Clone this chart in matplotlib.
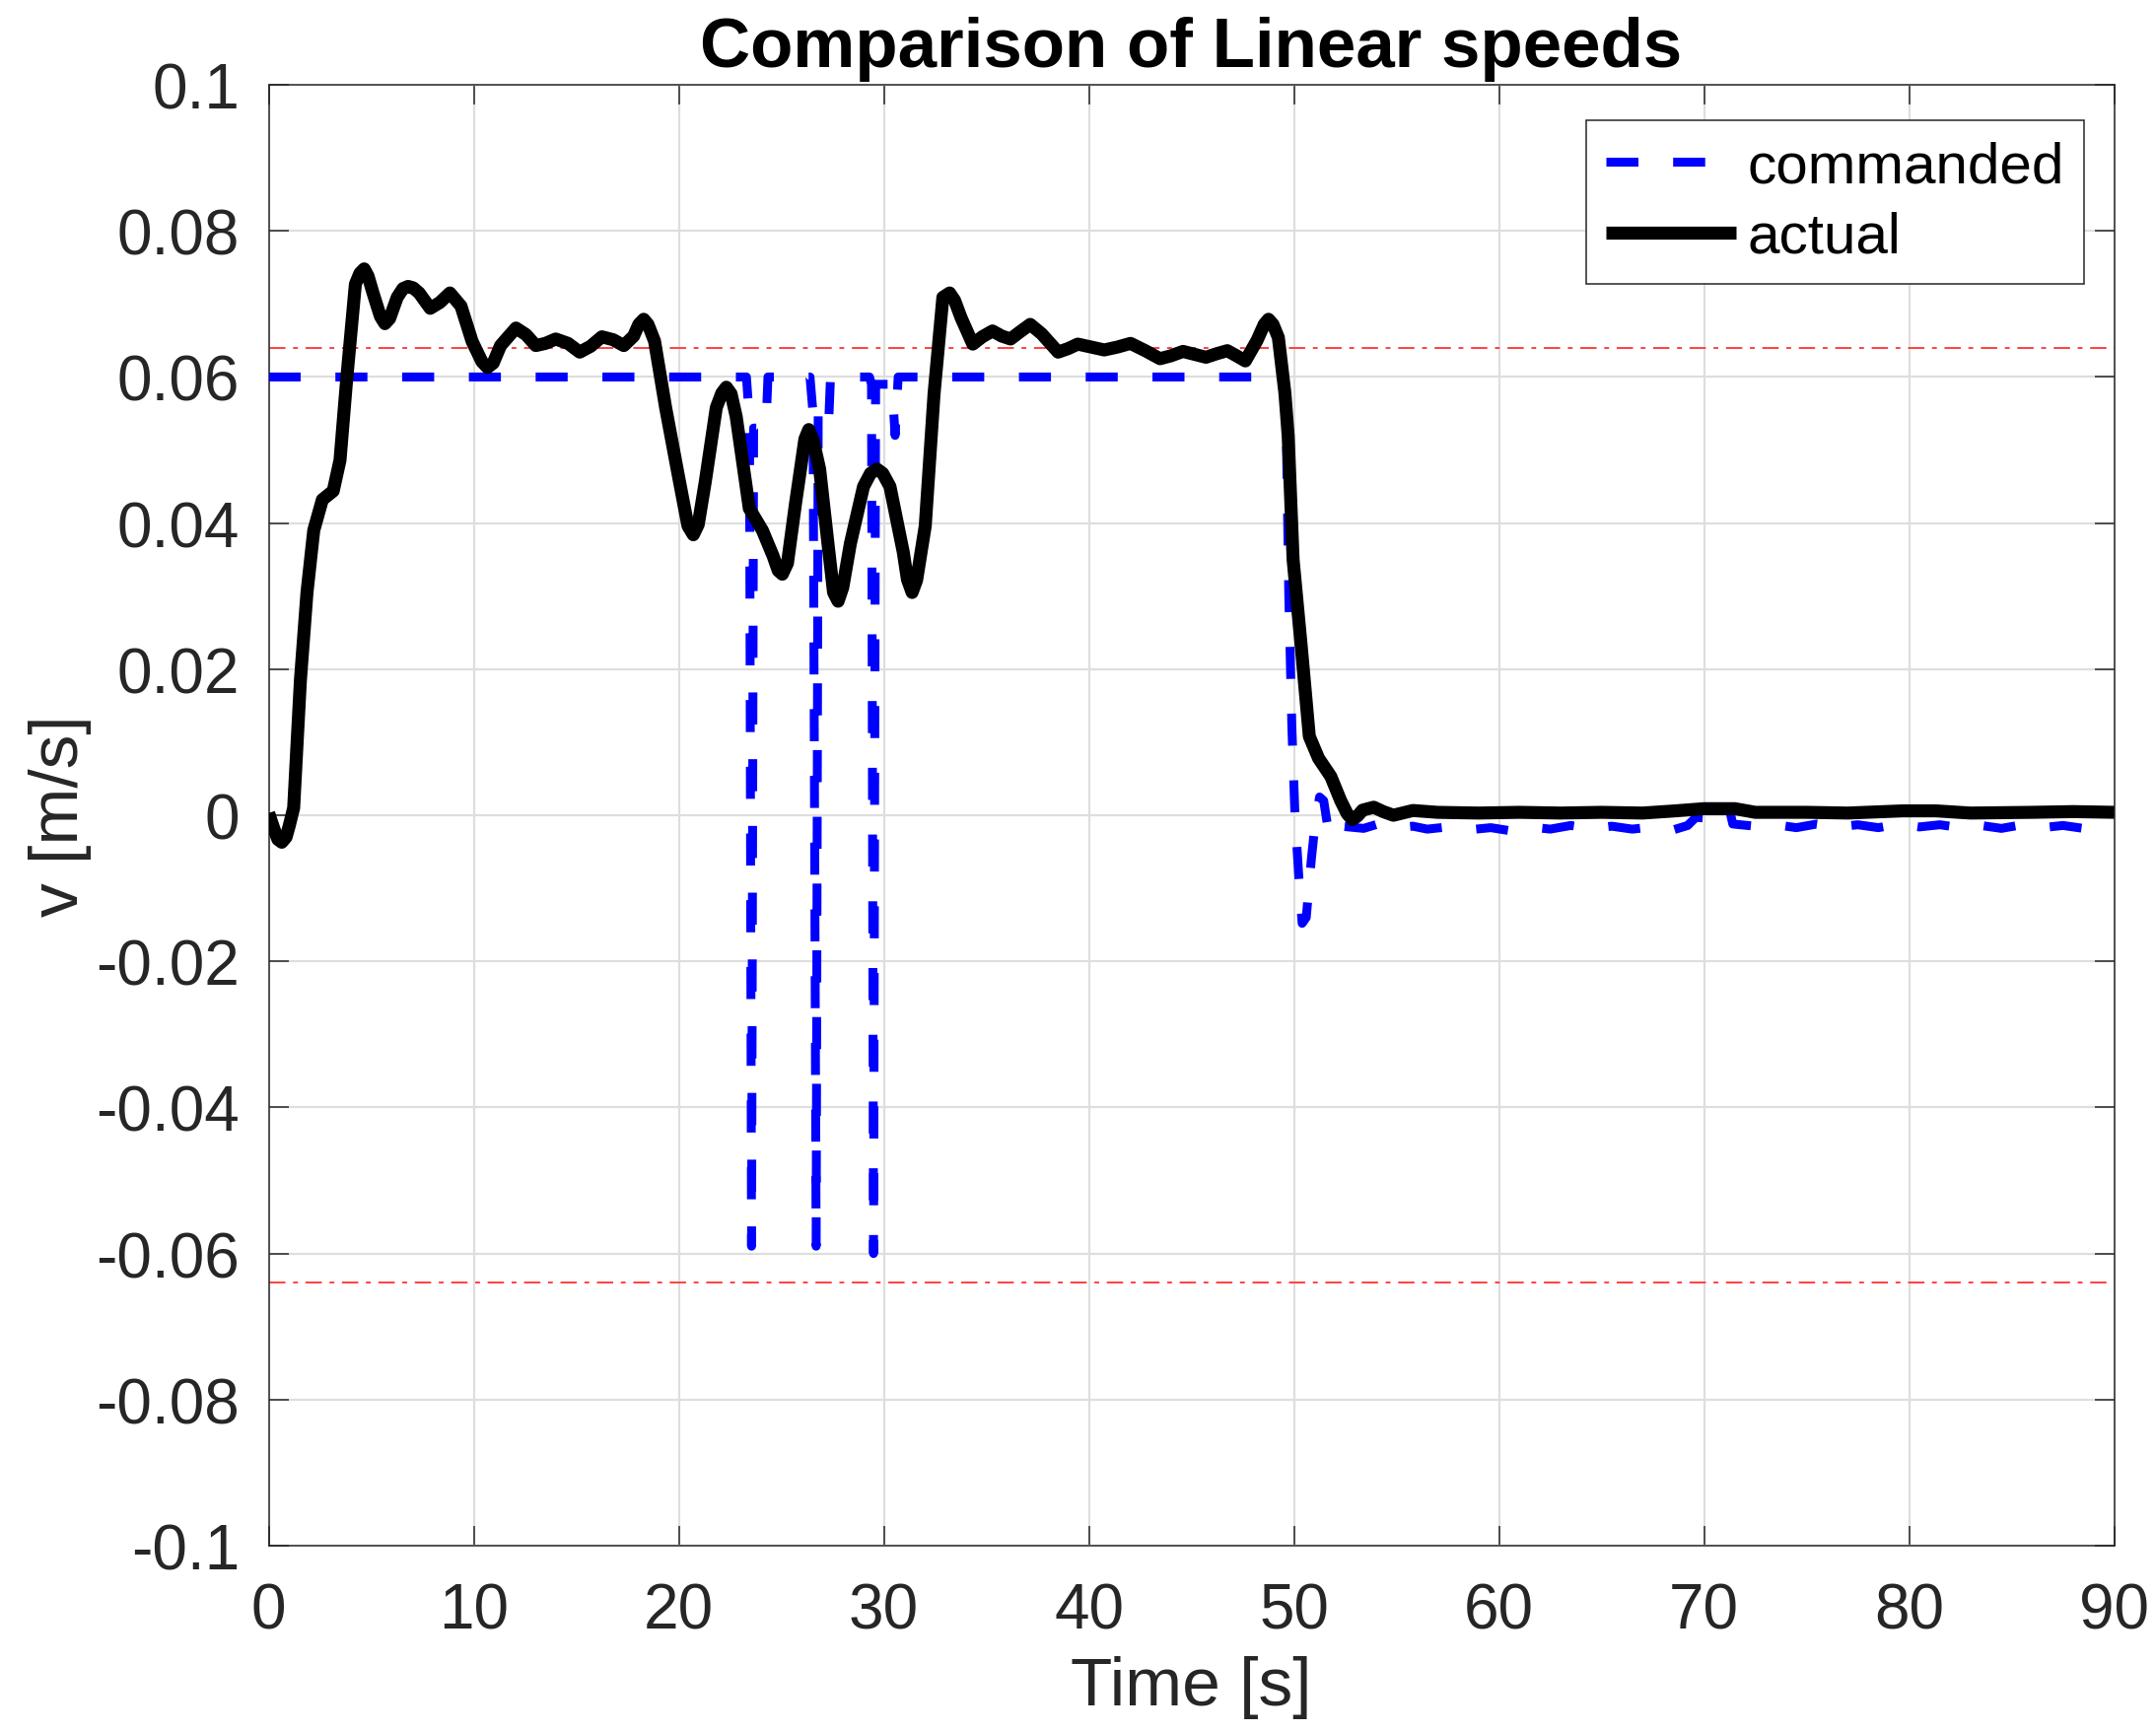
import matplotlib
matplotlib.use("Agg")
import matplotlib.pyplot as plt

# =========================
# DATA
# =========================
# actual linear speed of the robot [m/s]
T_ACTUAL = [0.0, 0.25, 0.45, 0.64, 0.85, 1.0, 1.22, 1.55, 1.87, 2.2, 2.62,
            3.15, 3.48, 3.8, 4.23, 4.45, 4.66, 4.85, 5.09, 5.45, 5.67, 5.9,
            6.27, 6.55, 6.8, 7.05, 7.34, 7.88, 8.35, 8.84, 9.38, 9.92, 10.4,
            10.67, 10.95, 11.31, 12.06, 12.55, 13.03, 13.5, 14.0, 14.6, 15.17,
            15.7, 16.25, 16.8, 17.32, 17.8, 18.05, 18.29, 18.5, 18.82, 19.36,
            20.0, 20.45, 20.71, 20.95, 21.29, 21.83, 22.1, 22.32, 22.55, 22.8,
            23.44, 24.08, 24.6, 24.85, 25.05, 25.3, 25.69, 26.15, 26.34, 26.55,
            26.87, 27.3, 27.55, 27.77, 28.0, 28.37, 29.01, 29.35, 29.66, 29.95,
            30.3, 30.95, 31.15, 31.38, 31.6, 32.02, 32.45, 32.88, 33.05, 33.21,
            33.45, 33.77, 34.34, 34.8, 35.3, 35.75, 36.18, 36.65, 37.14, 37.7,
            38.5, 39.0, 39.46, 40.1, 40.75, 41.4, 42.03, 42.75, 43.47, 44.0,
            44.59, 45.15, 45.71, 46.25, 46.75, 47.2, 47.63, 48.2, 48.55, 48.76,
            48.98, 49.24, 49.56, 49.72, 49.96, 50.36, 50.75, 51.2, 51.8, 52.28,
            52.6, 52.85, 53.1, 53.35, 53.89, 54.35, 54.85, 55.8, 57.0, 59.0,
            61.0, 63.0, 65.0, 67.0, 68.6, 70.0, 71.5, 72.5, 75.0, 77.0, 79.7,
            81.3, 83.0, 86.0, 88.0, 90.0]
V_ACTUAL = [0.0003, -0.0018, -0.0033, -0.0037, -0.003, -0.0015, 0.001, 0.0185,
            0.0305, 0.039, 0.0432, 0.0444, 0.0486, 0.0595, 0.0727, 0.0742,
            0.0748, 0.0738, 0.0715, 0.0683, 0.0673, 0.068, 0.0709, 0.0721,
            0.0724, 0.0722, 0.0715, 0.0694, 0.0702, 0.0715, 0.0697, 0.0649,
            0.0621, 0.0613, 0.0619, 0.0643, 0.0667, 0.0658, 0.0643, 0.0646,
            0.0652, 0.0646, 0.0634, 0.0642, 0.0655, 0.0651, 0.0643, 0.0656,
            0.0672, 0.0679, 0.0672, 0.0649, 0.0558, 0.0462, 0.0396, 0.0384,
            0.0398, 0.0456, 0.0558, 0.0578, 0.0586, 0.0577, 0.0546, 0.042,
            0.039, 0.0355, 0.0335, 0.033, 0.0345, 0.0426, 0.0515, 0.0528,
            0.0514, 0.0474, 0.0366, 0.0305, 0.0293, 0.0312, 0.0372, 0.045,
            0.0468, 0.0474, 0.0468, 0.045, 0.036, 0.0323, 0.0305, 0.0322,
            0.0396, 0.0577, 0.0709, 0.0712, 0.0715, 0.0705, 0.0681, 0.0645,
            0.0655, 0.0663, 0.0656, 0.0652, 0.0662, 0.0672, 0.0659, 0.0634,
            0.0639, 0.0645, 0.0641, 0.0637, 0.0641, 0.0646, 0.0636, 0.0625,
            0.0629, 0.0635, 0.0631, 0.0627, 0.0632, 0.0636, 0.0629, 0.0622,
            0.065, 0.0672, 0.0679, 0.0672, 0.0654, 0.0578, 0.0519, 0.035,
            0.023, 0.0108, 0.0078, 0.0053, 0.002, 0.0002, -0.0006, -0.0001,
            0.0007, 0.0011, 0.0005, 0.0, 0.00065, 0.0004, 0.0003, 0.0004,
            0.0003, 0.0004, 0.0003, 0.0006, 0.0009, 0.0009, 0.0004, 0.0004,
            0.0003, 0.0006, 0.0006, 0.0003, 0.0004, 0.0005, 0.0004]

# commanded linear speed [m/s]
T_CMD = [0.0, 23.3, 23.45, 23.55, 23.65, 24.25, 24.35, 26.4, 26.55, 26.7,
         26.8, 27.3, 27.4, 29.3, 29.4, 29.5, 29.6, 30.4, 30.55, 30.7, 49.45,
         49.6, 49.75, 49.9, 50.05, 50.25, 50.4, 50.6, 50.85, 51.0, 51.25,
         51.45, 51.7, 52.0, 52.3, 53.4, 54.1, 54.9, 55.8, 56.5, 57.5, 58.5,
         59.6, 60.5, 61.5, 62.5, 63.5, 64.5, 65.5, 66.5, 67.5, 68.5, 69.2,
         69.6, 70.3, 71.2, 71.4, 72.5, 73.5, 74.5, 75.5, 76.5, 77.5, 78.5,
         79.5, 80.5, 81.5, 82.5, 83.5, 84.5, 85.5, 86.5, 87.5, 88.5, 89.5,
         90.0]
V_CMD = [0.06, 0.06, 0.054, -0.059, 0.053, 0.053, 0.06, 0.06, 0.055, -0.059,
         0.055, 0.053, 0.06, 0.06, 0.059, -0.06, 0.059, 0.059, 0.052, 0.06,
         0.06, 0.058, 0.03, 0.012, 0.0, -0.009, -0.0148, -0.014, -0.006,
         -0.002, 0.0025, 0.002, -0.0025, -0.001, -0.0015, -0.0018, -0.0012,
         -0.0017, -0.0015, -0.0019, -0.0016, -0.002, -0.0017, -0.0021,
         -0.0016, -0.0019, -0.0014, -0.0018, -0.0015, -0.0019, -0.0016,
         -0.002, -0.0014, -0.0003, -0.0004, 0.0013, -0.0012, -0.0015,
         -0.0013, -0.0017, -0.0012, -0.0016, -0.0013, -0.0017, -0.0012,
         -0.0016, -0.0013, -0.0017, -0.0014, -0.0018, -0.0013, -0.0017,
         -0.0014, -0.0018, -0.0013, -0.0017]

# speed saturation limit [m/s]
V_LIMIT = 0.064

X_TICKS = [0, 10, 20, 30, 40, 50, 60, 70, 80, 90]
Y_TICKS = [-0.1, -0.08, -0.06, -0.04, -0.02, 0, 0.02, 0.04, 0.06, 0.08, 0.1]
Y_TICK_LABELS = ["-0.1", "-0.08", "-0.06", "-0.04", "-0.02", "0",
                 "0.02", "0.04", "0.06", "0.08", "0.1"]

# =========================
# STYLE
# =========================
TXT = "#262626"
plt.rcParams["font.family"] = ["Liberation Sans", "DejaVu Sans"]
plt.rcParams["axes.unicode_minus"] = False

fig = plt.figure(figsize=(21.87, 17.58), dpi=100)
fig.subplots_adjust(left=0.1246, right=0.9806, bottom=0.1075, top=0.9505)
ax = fig.add_subplot(111)

# =========================
# PLOT
# =========================
ax.plot(T_CMD, V_CMD, color="#0000ff", lw=6.5, dashes=(3.6, 3.9),
        dash_capstyle="butt", solid_joinstyle="miter", label="commanded",
        zorder=3)
ax.plot(T_ACTUAL, V_ACTUAL, color="black", lw=9.5, solid_joinstyle="round",
        solid_capstyle="butt", label="actual", zorder=4)

for lim in (V_LIMIT, -V_LIMIT):
    ax.axhline(lim, color="#ff4040", lw=1.4, dashes=(8.5, 4, 2.5, 4),
               zorder=2)

ax.set_xlim(0, 90)
ax.set_ylim(-0.1, 0.1)
ax.set_xticks(X_TICKS)
ax.set_yticks(Y_TICKS)
ax.set_yticklabels(Y_TICK_LABELS)

ax.grid(True, color="#dedede", lw=1.6)
ax.set_axisbelow(True)
ax.tick_params(direction="in", length=14.5, width=1.1, colors=TXT,
               labelsize=46, top=True, right=True, pad=21)
ax.tick_params(axis="x", pad=26)
for s in ax.spines.values():
    s.set_color(TXT)
    s.set_linewidth(1.1)

ax.set_xlabel("Time [s]", fontsize=50, color=TXT, labelpad=11)
ax.set_ylabel("v [m/s]", fontsize=50, color=TXT, labelpad=3)
ax.set_title("Comparison of Linear speeds", fontsize=51, fontweight="bold",
             color="black", pad=14)

leg = ax.legend(loc="upper right", bbox_to_anchor=(0.9837, 0.9757),
                borderaxespad=0, fontsize=42, handlelength=2.25,
                handletextpad=0.2, labelspacing=0.3, borderpad=0.35,
                fancybox=False, framealpha=1, edgecolor=TXT)
leg.get_frame().set_linewidth(1.1)

plt.savefig("out.png", dpi=100)
plt.close()
